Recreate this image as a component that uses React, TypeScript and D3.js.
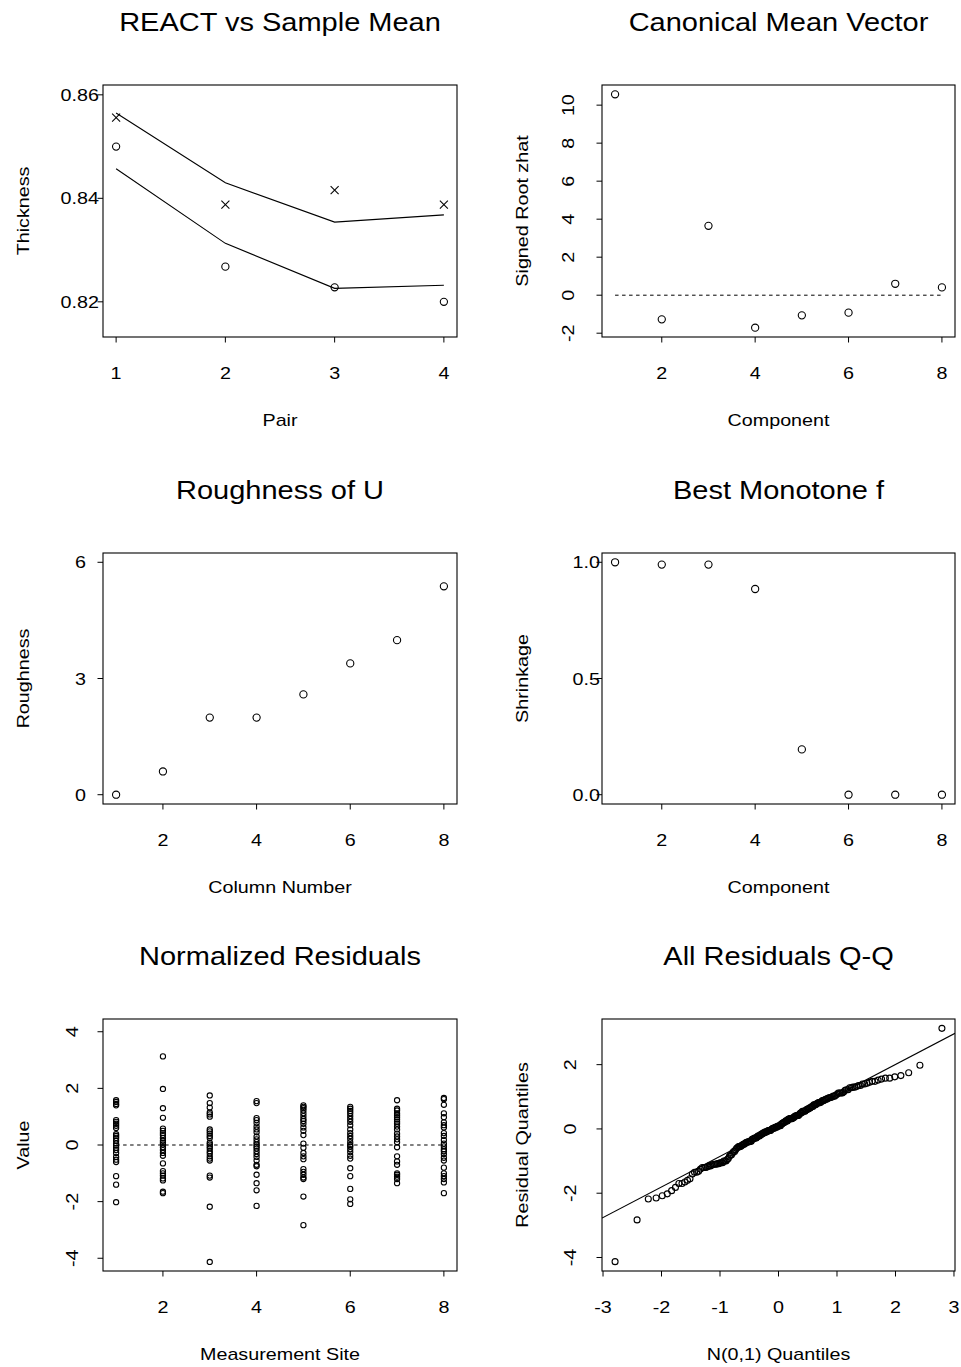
import React from "react";
import * as d3 from "d3";

// values
const pairs = [1, 2, 3, 4];
const reactUpper = [0.8565, 0.843, 0.8354, 0.8368];
const reactLower = [0.8457, 0.8313, 0.8226, 0.8232];
const meanCross = [0.8556, 0.8388, 0.8416, 0.8388];
const meanCircle = [0.85, 0.8268, 0.8228, 0.82];

const components = [1, 2, 3, 4, 5, 6, 7, 8];
const signedRootZhat = [10.57, -1.27, 3.65, -1.71, -1.06, -0.92, 0.6, 0.41];
const roughness = [0.0, 0.6, 1.99, 1.99, 2.59, 3.39, 3.99, 5.38];
const shrinkage = [1.0, 0.99, 0.99, 0.885, 0.195, 0, 0, 0];

const site1 = [1.58, 1.52, 1.45, 1.4, 0.88, 0.82, 0.75, 0.68, 0.6, 0.38, 0.32, 0.25, 0.15, 0.05, -0.02, -0.1, -0.18, -0.28, -0.42, -0.52, -0.6, -1.1, -1.4, -2.02];
const site2 = [3.13, 1.98, 1.3, 0.96, 0.58, 0.5, 0.42, 0.35, 0.25, 0.15, 0.08, 0.02, -0.08, -0.18, -0.28, -0.38, -0.65, -0.92, -1.0, -1.08, -1.18, -1.25, -1.65, -1.7];
const site3 = [1.75, 1.48, 1.32, 1.15, 1.08, 1.0, 0.55, 0.48, 0.4, 0.32, 0.25, 0.08, 0.02, -0.05, -0.12, -0.22, -0.3, -0.4, -0.48, -0.55, -1.08, -1.15, -2.18, -4.13];
const site4 = [1.55, 1.48, 0.95, 0.88, 0.78, 0.65, 0.55, 0.45, 0.3, 0.2, 0.1, 0.02, -0.05, -0.12, -0.22, -0.32, -0.42, -0.55, -0.7, -0.75, -1.05, -1.35, -1.6, -2.15];
const site5 = [1.4, 1.35, 1.3, 1.22, 1.12, 1.02, 0.92, 0.85, 0.75, 0.62, 0.5, 0.35, 0.05, -0.1, -0.28, -0.4, -0.5, -0.85, -0.95, -1.05, -1.15, -1.2, -1.82, -2.83];
const site6 = [1.35, 1.28, 1.2, 1.12, 1.02, 0.92, 0.82, 0.7, 0.55, 0.42, 0.32, 0.22, 0.1, 0.0, -0.05, -0.15, -0.25, -0.38, -0.48, -0.82, -1.1, -1.55, -1.92, -2.08];
const site7 = [1.58, 1.28, 1.22, 1.12, 1.05, 0.98, 0.9, 0.82, 0.75, 0.65, 0.55, 0.4, 0.3, 0.2, 0.1, -0.08, -0.4, -0.58, -0.7, -1.0, -1.05, -1.12, -1.2, -1.35];
const site8 = [1.66, 1.62, 1.42, 1.12, 0.98, 0.8, 0.7, 0.62, 0.42, 0.32, 0.18, 0.05, -0.05, -0.15, -0.22, -0.32, -0.45, -0.55, -0.8, -1.0, -1.1, -1.2, -1.32, -1.7];
const residualsBySite = [site1, site2, site3, site4, site5, site6, site7, site8];

// reference line of the Q-Q plot
const qqIntercept = 0.1;
const qqSlope = 0.953;

const FONT = "'Liberation Sans', Arial, Helvetica, sans-serif";
const SX = 1.16; // glyphs in the reference are wider than Arial

// inverse normal cdf (Acklam)
function qnorm(p: number) {
  const a = [-39.6968302866538, 220.946098424521, -275.928510446969, 138.357751867269, -30.6647980661472, 2.50662827745924];
  const b = [-54.4760987982241, 161.585836858041, -155.698979859887, 66.8013118877197, -13.2806815528857];
  const c = [-0.00778489400243029, -0.322396458041136, -2.40075827716184, -2.54973253934373, 4.37466414146497, 2.93816398269878];
  const d = [0.00778469570904146, 0.32246712907004, 2.445134137143, 3.75440866190742];
  const pl = 0.02425;
  if (p < pl) {
    const q = Math.sqrt(-2 * Math.log(p));
    return (((((c[0] * q + c[1]) * q + c[2]) * q + c[3]) * q + c[4]) * q + c[5]) / ((((d[0] * q + d[1]) * q + d[2]) * q + d[3]) * q + 1);
  }
  if (p > 1 - pl) {
    const q = Math.sqrt(-2 * Math.log(1 - p));
    return -(((((c[0] * q + c[1]) * q + c[2]) * q + c[3]) * q + c[4]) * q + c[5]) / ((((d[0] * q + d[1]) * q + d[2]) * q + d[3]) * q + 1);
  }
  const q = p - 0.5;
  const r = q * q;
  return ((((((a[0] * r + a[1]) * r + a[2]) * r + a[3]) * r + a[4]) * r + a[5]) * q) / (((((b[0] * r + b[1]) * r + b[2]) * r + b[3]) * r + b[4]) * r + 1);
}

const Txt = ({ x, y, rot = false, anchor = "middle", size = 17, dy = "0", children }: any) => (
  <text
    transform={`translate(${x},${y})${rot ? " rotate(-90)" : ""} scale(${SX},1)`}
    textAnchor={anchor}
    fontSize={size}
    dy={dy}
    fontFamily={FONT}
    fill="#000"
  >
    {children}
  </text>
);

const Circle = ({ cx, cy, r = 3.6 }: any) => (
  <circle cx={cx} cy={cy} r={r} fill="none" stroke="#000" strokeWidth={1.1} />
);

const Panel = ({ box, x, y, xTicks, yTicks, yFmt, title, xLabel, yLabel, yRot, yGap, children }: any) => {
  const cx = (box.l + box.r) / 2;
  const cy = (box.t + box.b) / 2;
  const fmt = yFmt || ((v: number) => String(v));
  return (
    <g>
      <Txt x={cx} y={box.t - 54} size={25}>{title}</Txt>
      <rect x={box.l} y={box.t} width={box.r - box.l} height={box.b - box.t} fill="none" stroke="#000" strokeWidth={1.1} />
      {xTicks.map((v: number) => (
        <g key={"x" + v}>
          <line x1={x(v)} x2={x(v)} y1={box.b} y2={box.b + 5.5} stroke="#000" />
          <Txt x={x(v)} y={box.b + 42}>{v}</Txt>
        </g>
      ))}
      {yTicks.map((v: number) => (
        <g key={"y" + v}>
          <line x1={box.l - 5.5} x2={box.l} y1={y(v)} y2={y(v)} stroke="#000" />
          {yRot ? (
            <Txt x={box.l - yGap} y={y(v)} rot>{fmt(v)}</Txt>
          ) : (
            <Txt x={box.l - yGap} y={y(v)} anchor="end" dy="0.36em">{fmt(v)}</Txt>
          )}
        </g>
      ))}
      <Txt x={cx} y={box.b + 89}>{xLabel}</Txt>
      <Txt x={box.l - 74} y={cy} rot>{yLabel}</Txt>
      {children}
    </g>
  );
};

const COLS = [
  { l: 103, r: 457 },
  { l: 602, r: 955 },
];
const ROWS = [
  { t: 85, b: 337 },
  { t: 553, b: 804 },
  { t: 1019, b: 1271 },
];
const boxOf = (c: number, r: number) => ({ ...COLS[c], ...ROWS[r] });

export default function App() {
  // panel 1
  const b1 = boxOf(0, 0);
  const x1 = d3.scaleLinear().domain([0.88, 4.12]).range([b1.l, b1.r]);
  const y1 = d3.scaleLinear().domain([0.8132, 0.8619]).range([b1.b, b1.t]);
  const line1 = d3.line<number>().x((_, i) => x1(pairs[i])).y((d) => y1(d));

  // panel 2
  const b2 = boxOf(1, 0);
  const x2 = d3.scaleLinear().domain([0.72, 8.28]).range([b2.l, b2.r]);
  const y2 = d3.scaleLinear().domain([-2.2, 11.06]).range([b2.b, b2.t]);

  // panel 3
  const b3 = boxOf(0, 1);
  const x3 = d3.scaleLinear().domain([0.72, 8.28]).range([b3.l, b3.r]);
  const y3 = d3.scaleLinear().domain([-0.24, 6.24]).range([b3.b, b3.t]);

  // panel 4
  const b4 = boxOf(1, 1);
  const x4 = d3.scaleLinear().domain([0.72, 8.28]).range([b4.l, b4.r]);
  const y4 = d3.scaleLinear().domain([-0.04, 1.04]).range([b4.b, b4.t]);

  // panel 5
  const b5 = boxOf(0, 2);
  const x5 = d3.scaleLinear().domain([0.72, 8.28]).range([b5.l, b5.r]);
  const y5 = d3.scaleLinear().domain([-4.45, 4.45]).range([b5.b, b5.t]);

  // panel 6: Q-Q of all residuals
  const b6 = boxOf(1, 2);
  const sorted = residualsBySite.flat().slice().sort((a, b) => a - b);
  const n = sorted.length;
  const theo = sorted.map((_, i) => qnorm((i + 0.5) / n));
  const xe = d3.extent(theo) as [number, number];
  const ye = d3.extent(sorted) as [number, number];
  const xPad = (xe[1] - xe[0]) * 0.04;
  const yPad = (ye[1] - ye[0]) * 0.04;
  const x6 = d3.scaleLinear().domain([xe[0] - xPad, xe[1] + xPad]).range([b6.l, b6.r]);
  const y6 = d3.scaleLinear().domain([ye[0] - yPad, ye[1] + yPad]).range([b6.b, b6.t]);
  const [q0, q1] = x6.domain();

  return (
    <svg width={961} height={1367} style={{ position: "absolute", left: 0, top: 0, background: "#fff" }}>
      <defs>
        <clipPath id="clip6">
          <rect x={b6.l} y={b6.t} width={b6.r - b6.l} height={b6.b - b6.t} />
        </clipPath>
      </defs>

      <Panel box={b1} x={x1} y={y1} xTicks={pairs} yTicks={[0.82, 0.84, 0.86]} yFmt={(v: number) => v.toFixed(2)}
        title="REACT vs Sample Mean" xLabel="Pair" yLabel="Thickness" yRot={false} yGap={4}>
        <path d={line1(reactUpper) || ""} fill="none" stroke="#000" strokeWidth={1.1} />
        <path d={line1(reactLower) || ""} fill="none" stroke="#000" strokeWidth={1.1} />
        {meanCross.map((v, i) => (
          <g key={i} stroke="#000" strokeWidth={1.1}>
            <line x1={x1(pairs[i]) - 4} x2={x1(pairs[i]) + 4} y1={y1(v) - 4} y2={y1(v) + 4} />
            <line x1={x1(pairs[i]) - 4} x2={x1(pairs[i]) + 4} y1={y1(v) + 4} y2={y1(v) - 4} />
          </g>
        ))}
        {meanCircle.map((v, i) => <Circle key={i} cx={x1(pairs[i])} cy={y1(v)} />)}
      </Panel>

      <Panel box={b2} x={x2} y={y2} xTicks={[2, 4, 6, 8]} yTicks={[-2, 0, 2, 4, 6, 8, 10]}
        title="Canonical Mean Vector" xLabel="Component" yLabel="Signed Root zhat" yRot yGap={28}>
        <line x1={x2(1)} x2={x2(8)} y1={y2(0)} y2={y2(0)} stroke="#000" strokeDasharray="3.5,3.5" />
        {signedRootZhat.map((v, i) => <Circle key={i} cx={x2(components[i])} cy={y2(v)} />)}
      </Panel>

      <Panel box={b3} x={x3} y={y3} xTicks={[2, 4, 6, 8]} yTicks={[0, 3, 6]}
        title="Roughness of U" xLabel="Column Number" yLabel="Roughness" yRot={false} yGap={17}>
        {roughness.map((v, i) => <Circle key={i} cx={x3(components[i])} cy={y3(v)} />)}
      </Panel>

      <Panel box={b4} x={x4} y={y4} xTicks={[2, 4, 6, 8]} yTicks={[0, 0.5, 1]} yFmt={(v: number) => v.toFixed(1)}
        title="Best Monotone f" xLabel="Component" yLabel="Shrinkage" yRot={false} yGap={2}>
        {shrinkage.map((v, i) => <Circle key={i} cx={x4(components[i])} cy={y4(v)} />)}
      </Panel>

      <Panel box={b5} x={x5} y={y5} xTicks={[2, 4, 6, 8]} yTicks={[-4, -2, 0, 2, 4]}
        title="Normalized Residuals" xLabel="Measurement Site" yLabel="Value" yRot yGap={25.5}>
        <line x1={x5(1)} x2={x5(8)} y1={y5(0)} y2={y5(0)} stroke="#000" strokeDasharray="3.5,3.5" />
        {residualsBySite.map((site, s) =>
          site.map((v, i) => <Circle key={s + "-" + i} cx={x5(s + 1)} cy={y5(v)} r={2.6} />)
        )}
      </Panel>

      <Panel box={b6} x={x6} y={y6} xTicks={[-3, -2, -1, 0, 1, 2, 3]} yTicks={[-4, -2, 0, 2]}
        title="All Residuals Q-Q" xLabel="N(0,1) Quantiles" yLabel="Residual Quantiles" yRot yGap={26}>
        <line clipPath="url(#clip6)" x1={x6(q0)} x2={x6(q1)} y1={y6(qqIntercept + qqSlope * q0)} y2={y6(qqIntercept + qqSlope * q1)} stroke="#000" strokeWidth={1.1} />
        {sorted.map((v, i) => <Circle key={i} cx={x6(theo[i])} cy={y6(v)} r={3} />)}
      </Panel>
    </svg>
  );
}
